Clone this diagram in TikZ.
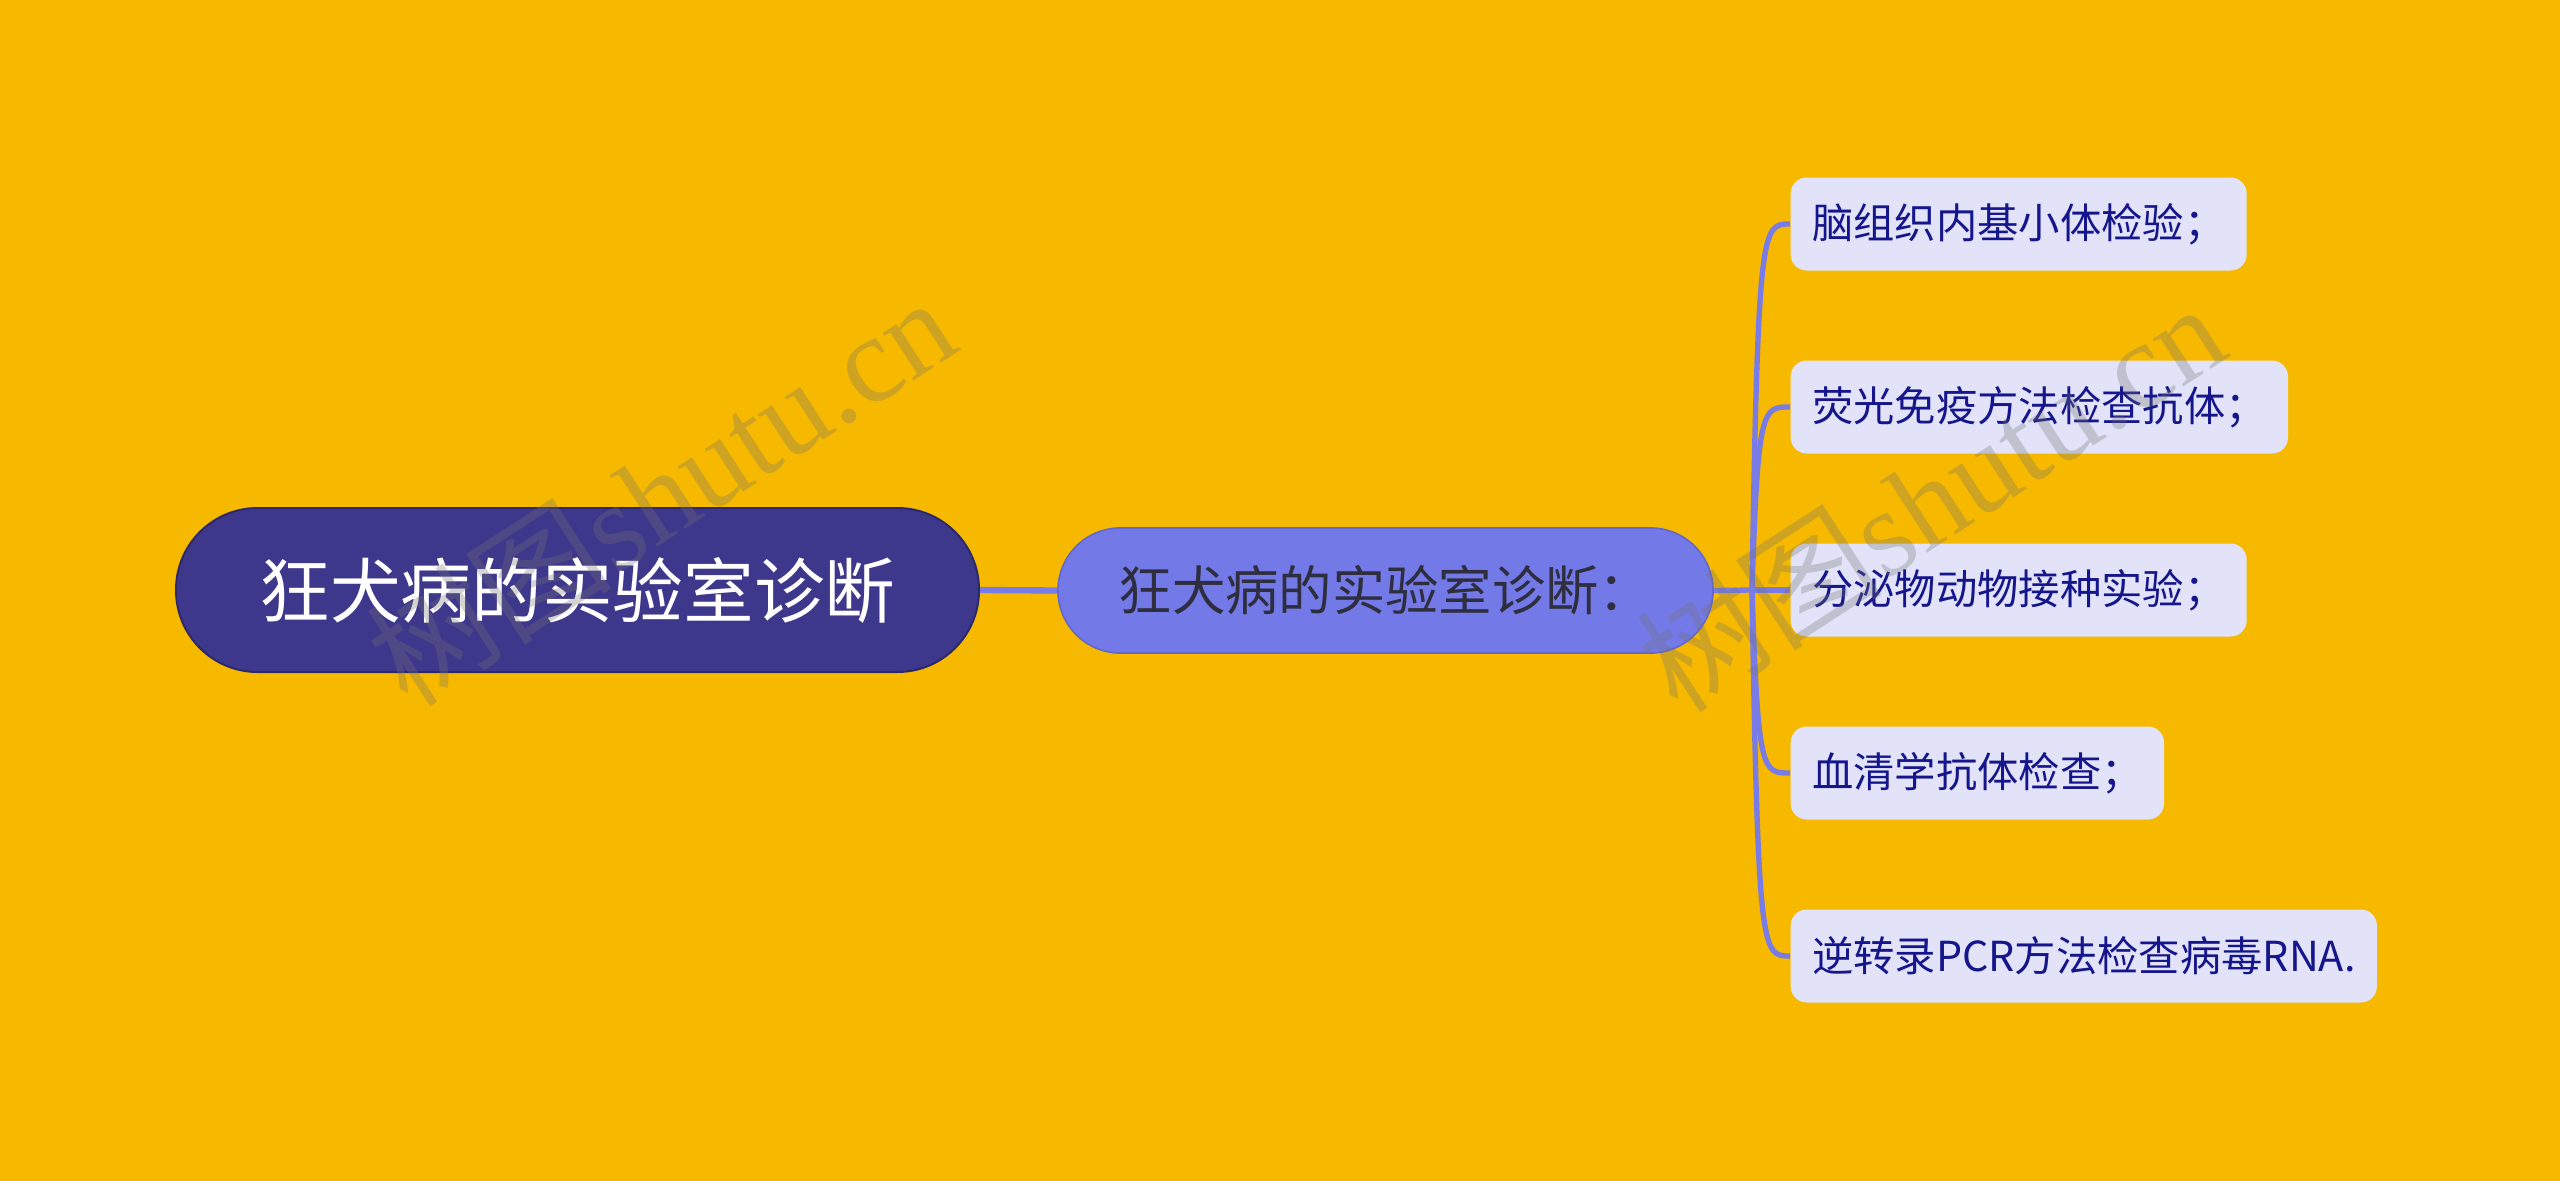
\documentclass[tikz,border=0pt]{standalone}
\usepackage{fontspec}
\setmainfont{Noto Sans CJK SC}
\newfontfamily\wmserif{Liberation Serif}
\usetikzlibrary{calc}
\definecolor{bgc}{RGB}{246,185,0}
\definecolor{rootc}{RGB}{62,56,140}
\definecolor{rootb}{RGB}{45,41,105}
\definecolor{subc}{RGB}{116,121,232}
\definecolor{subb}{RGB}{100,104,205}
\definecolor{leafc}{RGB}{226,227,248}
\definecolor{leaft}{RGB}{22,22,140}
\definecolor{subt}{RGB}{46,46,62}
\definecolor{linec}{RGB}{120,124,228}
\tikzset{
  rootnode/.style={draw=rootb, line width=0.6pt, fill=rootc, text=white,
    rectangle, rounded corners=24.5pt, minimum width=240.9pt, minimum height=49.2pt,
    inner sep=0pt, font=\fontsize{21.2pt}{24pt}\selectfont},
  subnode/.style={draw=subb, line width=0.5pt, fill=subc, text=subt,
    rectangle, rounded corners=18.7pt, minimum width=196.5pt, minimum height=37.5pt,
    inner sep=0pt, font=\fontsize{16pt}{19pt}\selectfont},
  leafnode/.style={fill=leafc, text=leaft, rectangle, rounded corners=4.8pt,
    minimum height=27.9pt, inner xsep=6.4pt, inner ysep=0pt, anchor=west,
    font=\fontsize{12.4pt}{15pt}\selectfont},
  conn/.style={draw=linec, line width=1.6pt},
  mainconn/.style={draw=linec, line width=1.9pt},
  wm/.style={text=black!55, opacity=0.3, rotate=33,
    font=\fontsize{37pt}{40pt}\selectfont}
}
\begin{document}
\begin{tikzpicture}[x=0.3pt, y=-0.3pt]
\useasboundingbox (0,0) rectangle (2560,1181);
\fill[bgc] (0,0) rectangle (2560,1181);

\node[rootnode] (root) at (577.5,590) {狂犬病的实验室诊断};
\node[subnode] (sub) at (1385.5,590.5) {狂犬病的实验室诊断：};

\node[leafnode] (l1) at (1790,224) {脑组织内基小体检验；};
\node[leafnode] (l2) at (1790,407) {荧光免疫方法检查抗体；};
\node[leafnode] (l3) at (1790,590) {分泌物动物接种实验；};
\node[leafnode] (l4) at (1790,773) {血清学抗体检查；};
\node[leafnode] (l5) at (1790,956) {逆转录PCR方法检查病毒RNA.};

\coordinate (J) at (1752,590);
\coordinate (J1) at (1758,590);
\coordinate (J2) at (1762,590);

\draw[mainconn] (root.east) -- (sub.west);
\draw[conn] (sub.east) -- (J);
\foreach \l in {l1,l2,l3,l4,l5}{
  \draw[conn] (J) .. controls (J1 |- \l.west) and (J2 |- \l.west) .. (\l.west);
}

\node[wm] (wm1) at (660,490) {树图{\wmserif shutu.cn}};
\node[wm] (wm2) at (1930,496) {树图{\wmserif shutu.cn}};
\end{tikzpicture}
\end{document}
